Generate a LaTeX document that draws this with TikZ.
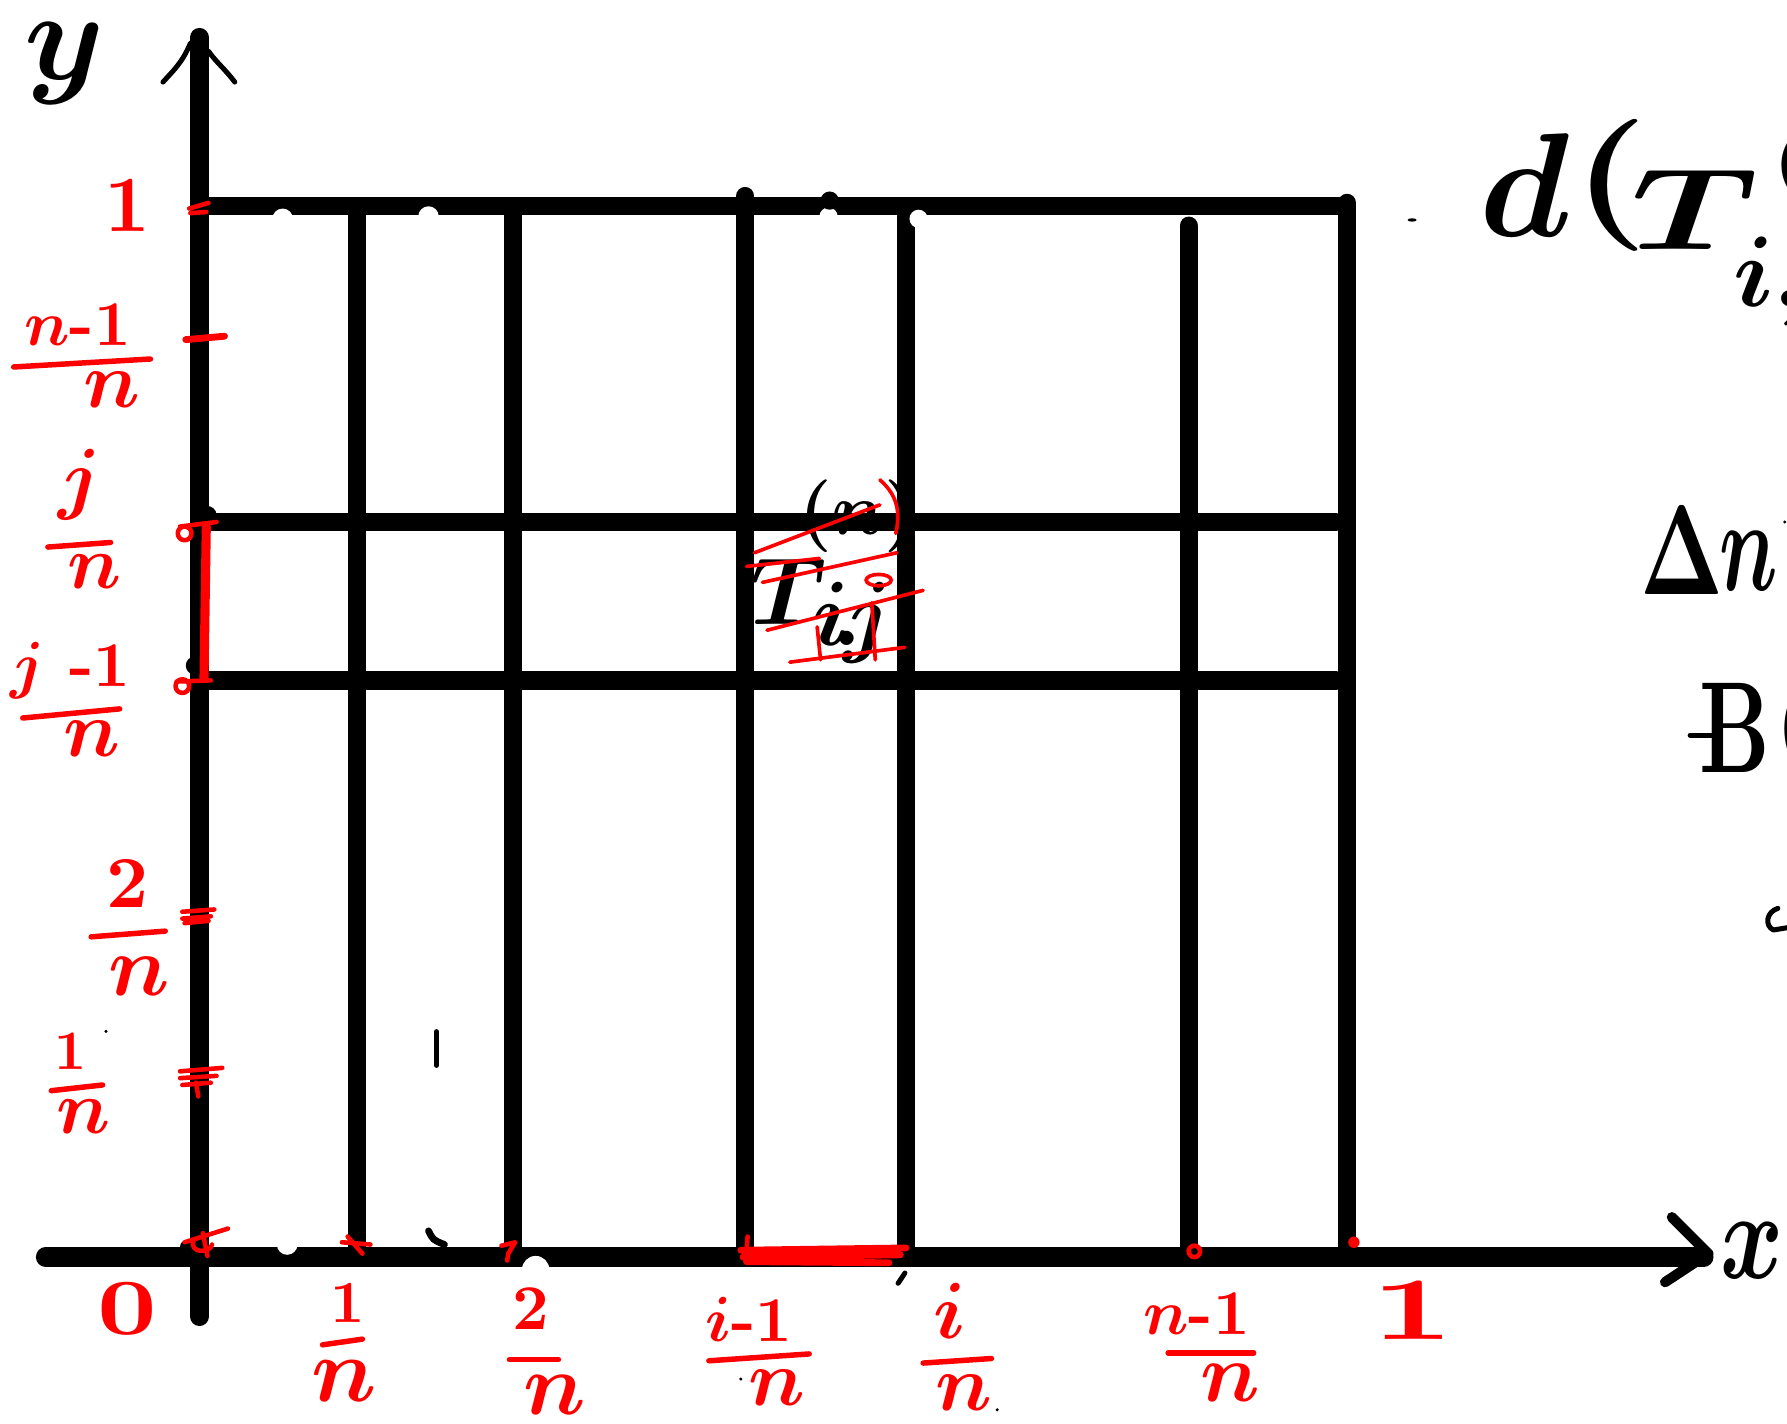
\documentclass[tikz,border=0pt]{standalone}
\begin{document}
\begin{tikzpicture}[x=0.5pt,y=-0.5pt]
\tikzset{
 axisline/.style={line width=8.5pt, line cap=round},
 gridline/.style={line width=8pt, line cap=round},
 redlbl/.style={text=red, inner sep=0pt, scale=3.5, font=\boldmath\bfseries},
 redbar/.style={draw=red, line width=2.4pt, line cap=round},
 redmark/.style={draw=red, line width=2pt, line cap=round, line join=round},
 hatch/.style={draw=red, line width=1.6pt, line cap=round},
 blk/.style={text=black, inner sep=0pt, font=\boldmath\bfseries},
 pen/.style={line width=2.2pt, line cap=round, line join=round},
}
\useasboundingbox (0,0) rectangle (1568,1249);
% axes
\coordinate (yb) at (175,1155);
\coordinate (yt) at (175,33);
\coordinate (xl) at (40,1103);
\coordinate (xr) at (1495,1103);
\draw[axisline] (yb) -- (yt);
\draw[axisline] (xl) -- (xr);
% arrow heads
\draw[line width=4.5pt, line cap=round, line join=round] (1467,1068) -- (1499,1100) -- (1461,1125);
\draw[pen] (143,72) .. controls (152,62) and (160,55) .. (167,38);
\draw[pen] (183,45) .. controls (190,55) and (197,60) .. (206,72);
% grid
\draw[gridline] (175,181) -- (1180,181);
\draw[gridline] (175,458) -- (1172,458);
\draw[gridline] (175,597) -- (1172,597);
\draw[gridline] (313,181) -- (313,1095);
\draw[gridline] (450,181) -- (450,1103);
\draw[gridline] (654,172) -- (654,1103);
\draw[gridline] (795,190) -- (795,1103);
\draw[gridline] (1043,198) -- (1043,1095);
\draw[gridline] (1182,178) -- (1182,1103);
% eraser artefacts and bumps
\fill[white] (248,192) circle (9);
\fill[white] (376,190) circle (9);
\fill[white] (727,190) circle (8);
\fill[white] (806,192) circle (8);
\fill[white] (252,1092) circle (9);
\fill[white] (470,1114) circle (12);
\fill (728,176) circle (8);
\fill (164,1094) circle (6);
\fill (182,452) circle (8);
\fill (171,584) circle (8);
\draw[pen, line width=3pt] (376,1080) .. controls (380,1088) .. (390,1092);
\draw[pen, line width=2pt] (383,905) -- (383,935);
\draw[pen] (788,1126) -- (794,1117);
\fill (93,905) circle (1.5);
\fill (650,1210) circle (1.5);
\fill (875,1237) circle (1.5);
% axis letters
\node[blk, scale=5.6] (ylab) at (57,56) {$y$};
\node[blk, xscale=4.2, yscale=5.5] (xlab) at (1537,1097) {$x$};
% cell label
\node[blk, scale=4.2] (cT) at (692,519) {$T$};
\node[blk, scale=3.2] (csup) at (753,453) {$(n)$};
\node[blk, scale=4] (csub) at (748,546) {$i\!.\!j$};
% hatching
\draw[hatch] (662,485) -- (772,443);
\draw[hatch] (655,497) -- (719,490);
\draw[hatch] (669,511) -- (787,485);
\draw[hatch] (673,553) -- (810,518);
\draw[hatch] (693,581) -- (794,568);
\draw[hatch] (772,421) .. controls (788,435) and (790,450) .. (786,468);
\draw[hatch] (765,529) -- (768,579);
\draw[hatch] (717,550) -- (720,579);
\draw[hatch] (771,509) ellipse (11 and 5);
% red ticks on y axis
\draw[redmark] (166,183) -- (183,178) (167,187) -- (181,186);
\draw[redmark, line width=3pt] (163,298) -- (197,295);
\draw[redmark] (162,468) circle (6);
\draw[redmark] (158,462) -- (190,458);
\draw[redmark] (160,602) circle (6);
\draw[redmark] (155,598) -- (185,597);
\draw[red, line width=4pt, line cap=round] (181,462) -- (179,595);
\draw[redmark] (160,800) -- (188,798) (160,806) -- (185,804) (162,810) -- (183,808);
\draw[redmark] (158,940) -- (195,937) (158,946) -- (190,944) (160,952) -- (185,950) (172,950) -- (174,962);
\draw[redmark] (162,1090) -- (200,1078) (178,1082) -- (182,1102) (170,1088) .. controls (165,1100) and (185,1100) .. (186,1092);
% red ticks on x axis
\draw[redmark] (300,1090) -- (325,1092) (305,1085) -- (318,1100);
\draw[redmark] (440,1093) -- (452,1090) -- (446,1100) -- (445,1106);
\draw[red, line width=3pt, line cap=round] (650,1097) -- (795,1095) (652,1103) -- (790,1101) (655,1107) -- (780,1108);
\draw[redmark] (656,1085) -- (655,1097);
\draw[redmark] (1048,1098) circle (5);
\fill[red] (1188,1090) circle (5);
% left labels
\node[redlbl] (ly1) at (112,180) {1};
\node[redlbl, scale=0.8] (lynn) at (68,285) {$n$-1};
\draw[redbar] (12,322) -- (132,315);
\node[redlbl] (lynd) at (98,342) {$n$};
\node[redlbl] (lyjn) at (70,425) {$j$};
\draw[redbar] (42,480) -- (97,476);
\node[redlbl, scale=0.95] (lyjd) at (83,502) {$n$};
\node[redlbl, scale=0.8] (lyjmn) at (62,588) {$j$ -1};
\draw[redbar] (20,630) -- (105,622);
\node[redlbl] (lyjmd) at (81,648) {$n$};
\node[redlbl, scale=0.92] (ly2n) at (112,775) {2};
\draw[redbar] (80,822) -- (145,817);
\node[redlbl, scale=1.08] (ly2d) at (122,857) {$n$};
\node[redlbl, scale=0.7] (ly1n) at (62,922) {1};
\draw[redbar] (45,957) -- (90,952);
\node[redlbl, scale=0.95] (ly1d) at (73,980) {$n$};
% bottom labels
\node[redlbl, xscale=1.3] (lx0) at (112,1148) {0};
\node[redlbl, scale=0.75] (lx1n) at (305,1143) {1};
\draw[redbar] (283,1180) -- (318,1175);
\node[redlbl, scale=1.15] (lx1d) at (302,1212) {$n$};
\node[redlbl, scale=0.8] (lx2n) at (466,1148) {2};
\draw[redbar] (447,1193) -- (490,1193);
\node[redlbl, scale=1.1] (lx2d) at (487,1224) {$n$};
\node[redlbl, scale=0.8] (lximn) at (657,1158) {$i$-1};
\draw[redbar] (622,1194) -- (710,1188);
\node[redlbl] (lximd) at (682,1218) {$n$};
\node[redlbl] (lxin) at (833,1150) {$i$};
\draw[redbar] (810,1196) -- (870,1192);
\node[redlbl] (lxid) at (846,1222) {$n$};
\node[redlbl, scale=0.8] (lxnn) at (1050,1153) {$n$-1};
\draw[redbar] (1025,1187) -- (1100,1187);
\node[redlbl, scale=1.05] (lxnd) at (1080,1213) {$n$};
\node[redlbl, xscale=1.8, yscale=1.12] (lxone) at (1240,1150) {1};
% right side text (cut by page edge)
\fill (1239,193) ellipse (4 and 1.5);
\node[blk, scale=6.5] (rd) at (1338,162) {$d$};
\node[blk, xscale=7.5, yscale=5.8] (rp) at (1413,163) {$($};
\node[blk, xscale=7, yscale=5.1] (rT) at (1487,184) {$T$};
\node[blk, scale=4.4, anchor=base west] (rsub) at (1519,269) {$i,j$};
\node[blk, scale=3, anchor=base west] (rsup) at (1556,160) {$(n)$};
\node[blk, xscale=3.8, yscale=5.6] (rDelta) at (1476,483) {$\Delta$};
\node[blk, xscale=3.6, yscale=5.8] (rn) at (1534,492) {$n$};
\fill (1566,458) circle (1.5);
\draw[pen] (1483,645) -- (1505,645);
\node[blk, xscale=3.8, yscale=5.7] (rB) at (1522,639) {$\mathbf{B}$};
\node[blk, scale=5, anchor=west] (rBp) at (1553,640) {$($};
\draw[pen] (1560,797) .. controls (1550,800) and (1548,812) .. (1556,816) -- (1568,814);
\end{tikzpicture}
\end{document}
